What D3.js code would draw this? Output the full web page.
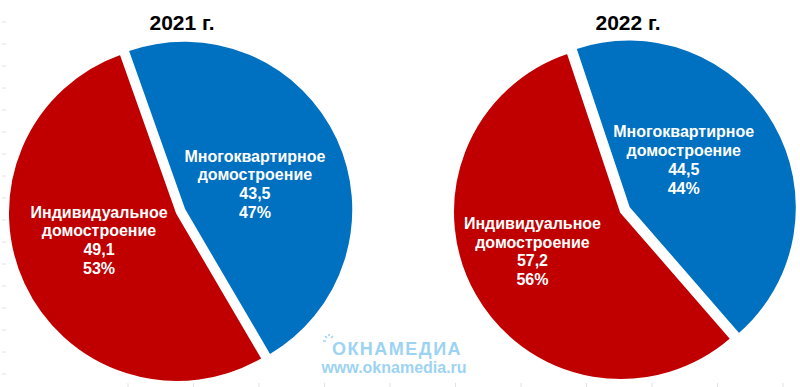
<!DOCTYPE html>
<html>
<head>
<meta charset="utf-8">
<script src="https://cdn.jsdelivr.net/npm/d3@7"></script>
<style>
  body { margin: 0; background: #fff; }
  svg { display: block; font-family: "Liberation Sans", Arial, sans-serif; }
</style>
</head>
<body>
<div id="chart"></div>
<script>
// values, млн кв. м
const years = ['2021 г.', '2022 г.'];
const categories = ['Многоквартирное домостроение', 'Индивидуальное домостроение'];
const apartment = [43.5, 44.5];
const individual = [49.1, 57.2];
const colors = ['#0070C0', '#C00000'];

// layout
const W = 800, H = 387;
const pies = [
  { cx: 177, cy: 213, r: 169, start: -19.5, explode: 8, titleX: 182,
    labels: [[70, 0.445], [251, 0.488]] },
  { cx: 621, cy: 212, r: 168, start: -18.5, explode: 9, titleX: 628,
    labels: [[49, 0.433], [246, 0.577]] }
];

const ru = d3.formatLocale({ decimal: ',', thousands: ' ', grouping: [3], currency: ['', ''] });
const fmt = ru.format('.1f');

const svg = d3.select('#chart').append('svg')
  .attr('width', W)
  .attr('height', H);

// faint sheet grid ticks from the screenshot
const gridY = d3.range(22, H, 22);
svg.selectAll('.ty').data(gridY).enter().append('line')
  .attr('x1', 2).attr('x2', 6).attr('y1', d => d).attr('y2', d => d)
  .attr('stroke', '#e2e2e2');
const gridX = d3.range(128, W, 65.5);
svg.selectAll('.tx').data(gridX).enter().append('line')
  .attr('x1', d => d).attr('x2', d => d).attr('y1', H - 4).attr('y2', H)
  .attr('stroke', '#e2e2e2');

const rad = d => d * Math.PI / 180;

years.forEach((year, i) => {
  const p = pies[i];
  const values = [apartment[i], individual[i]];
  const total = d3.sum(values);

  const pie = d3.pie().sort(null)
    .startAngle(rad(p.start))
    .endAngle(rad(p.start) + 2 * Math.PI);
  const arcs = pie(values);
  const arc = d3.arc().innerRadius(0).outerRadius(p.r);

  const g = svg.append('g').attr('transform', `translate(${p.cx},${p.cy})`);

  const slices = g.selectAll('g.slice').data(arcs).enter().append('g')
    .attr('class', 'slice')
    .attr('transform', (d, j) => {
      if (j !== 0) return null;
      const mid = (d.startAngle + d.endAngle) / 2;
      return `translate(${Math.sin(mid) * p.explode},${-Math.cos(mid) * p.explode})`;
    });

  slices.append('path')
    .attr('d', arc)
    .attr('fill', (d, j) => colors[j])
    .attr('stroke', '#fff')
    .attr('stroke-width', 2)
    .attr('stroke-linejoin', 'round');

  slices.each(function(d, j) {
    const [ang, frac] = p.labels[j];
    const lx = Math.sin(rad(ang)) * p.r * frac;
    const ly = -Math.cos(rad(ang)) * p.r * frac;
    const words = categories[j].split(' ');
    const lines = [words[0], words[1], fmt(values[j]), Math.round(values[j] / total * 100) + '%'];
    const lh = 18.7;
    d3.select(this).append('text')
      .attr('text-anchor', 'middle')
      .attr('fill', '#fff')
      .attr('font-weight', 'bold')
      .attr('font-size', 16)
      .selectAll('tspan').data(lines).enter().append('tspan')
      .attr('x', lx)
      .attr('y', (t, k) => ly + (k - 1.5) * lh + 5.7)
      .text(t => t);
  });

  svg.append('text')
    .attr('x', p.titleX)
    .attr('y', 30)
    .attr('text-anchor', 'middle')
    .attr('font-weight', 'bold')
    .attr('font-size', 21)
    .attr('fill', '#000')
    .text(year);
});

// watermark
const wm = svg.append('g').attr('fill', '#9dd3f2').attr('font-weight', 'bold');
wm.append('text')
  .attr('x', 397).attr('y', 355)
  .attr('text-anchor', 'middle')
  .attr('font-size', 18)
  .attr('letter-spacing', 1.5)
  .text('ОКНАМЕДИА');
wm.append('text')
  .attr('x', 394).attr('y', 373)
  .attr('text-anchor', 'middle')
  .attr('font-size', 16)
  .text('www.oknamedia.ru');
const rays = [[-6, 0, -3, 0], [-4, -5, -2, -3], [0, -7, 0, -5], [4, -5, 2, -3]];
svg.selectAll('.ray').data(rays).enter().append('line')
  .attr('transform', 'translate(329,341)')
  .attr('x1', d => d[0]).attr('y1', d => d[1]).attr('x2', d => d[2]).attr('y2', d => d[3])
  .attr('stroke', '#9dd3f2').attr('stroke-width', 1.5);
</script>
</body>
</html>
